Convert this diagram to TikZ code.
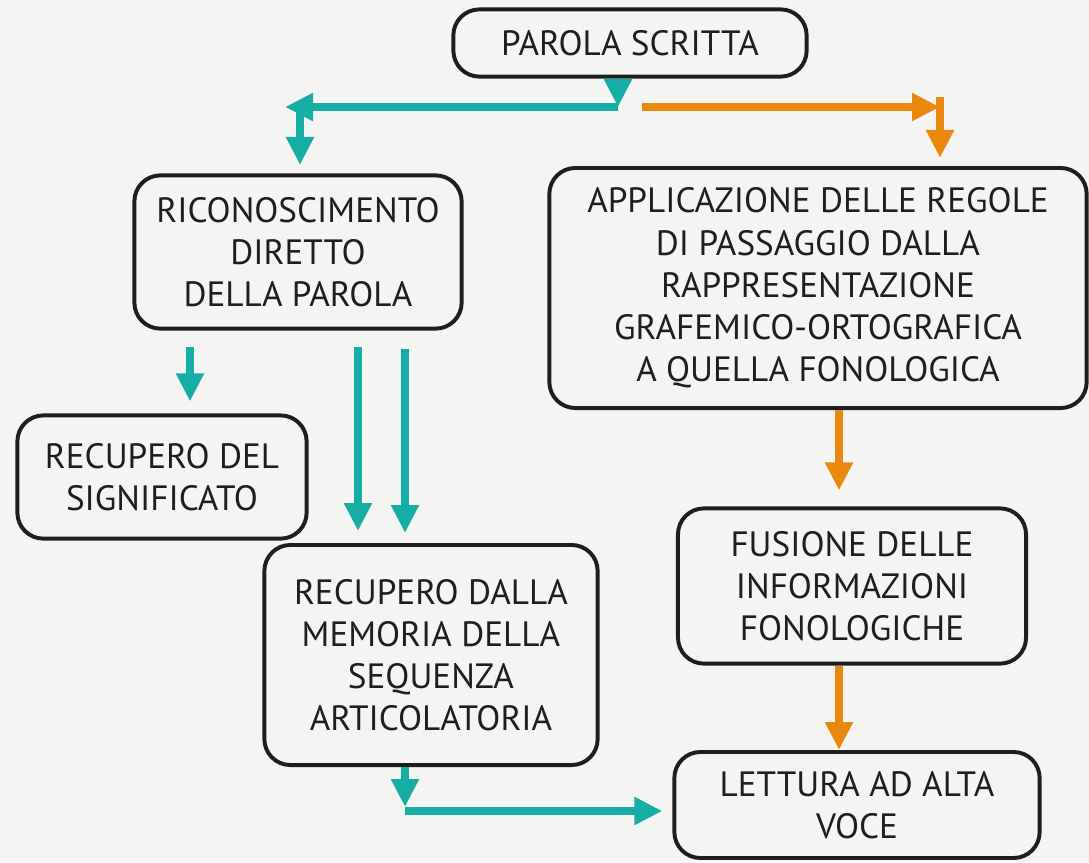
\documentclass[tikz,border=0pt]{standalone}
\usepackage{fontspec}
\setmainfont{PT Sans}
\usepackage{tikz}
\usetikzlibrary{arrows.meta,positioning,calc}
\definecolor{colorDirect}{RGB}{22,174,164}
\definecolor{colorPhono}{RGB}{232,136,12}
\definecolor{colorPaper}{RGB}{244,244,242}
\definecolor{colorInk}{RGB}{30,30,30}

\begin{document}
\begin{tikzpicture}[x=0.025cm,y=-0.025cm,
  box/.style={draw=colorInk,line width=2.8pt,rounded corners=0.65cm,align=center,inner sep=0pt,text=colorInk,font=\fontsize{25}{30}\selectfont},
  direct/.style={colorDirect,line width=5.8pt,-{Triangle[length=0.7cm,width=0.66cm]}},
  phono/.style={colorPhono,line width=5.8pt,-{Triangle[length=0.7cm,width=0.66cm]}}]
  \fill[colorPaper] (0,0) rectangle (1089,862);
  \useasboundingbox (0,0) rectangle (1089,862);

  % boxes
  \node[box,minimum width=8.83cm,minimum height=1.68cm] (parola) at (630,43) {PAROLA SCRITTA};
  \node[box,minimum width=8.18cm,minimum height=3.83cm] (ricon) at (298,252) {RICONOSCIMENTO\\DIRETTO\\DELLA PAROLA};
  \node[box,minimum width=13.43cm,minimum height=6.0cm] (applic) at (818,288) {APPLICAZIONE DELLE REGOLE\\DI PASSAGGIO DALLA\\RAPPRESENTAZIONE\\GRAFEMICO-ORTOGRAFICA\\A QUELLA FONOLOGICA};
  \node[box,minimum width=7.23cm,minimum height=3.08cm] (signif) at (162,477) {RECUPERO DEL\\SIGNIFICATO};
  \node[box,minimum width=8.33cm,minimum height=5.5cm] (memoria) at (431,655) {RECUPERO DALLA\\MEMORIA DELLA\\SEQUENZA\\ARTICOLATORIA};
  \node[box,minimum width=8.7cm,minimum height=3.88cm] (fusione) at (852,586) {FUSIONE DELLE\\INFORMAZIONI\\FONOLOGICHE};
  \node[box,minimum width=9.13cm,minimum height=2.65cm] (lettura) at (857,805) {LETTURA AD ALTA\\VOCE};

  % junctions
  \coordinate (splitL) at (618,107);
  \coordinate (leftEnd) at (285,107);
  \coordinate (splitR) at (642,107);
  \coordinate (cornerR) at (940,107);
  \coordinate (cornerB) at (405,811);

  % direct route
  \draw[direct] (parola.south -| splitL) -- (splitL);
  \draw[direct] (splitL) -- (leftEnd);
  \draw[direct,shorten >=6pt] ($(leftEnd)+(15,-4)$) -- (ricon.north -| 300,0);
  \draw[direct,shorten <=0.4cm,shorten >=0.3cm] (ricon.south -| 190,0) -- (signif.north -| 190,0);
  \draw[direct,shorten <=0.4cm,shorten >=0.3cm] (ricon.south -| 358,0) -- (memoria.north -| 358,0);
  \draw[direct,shorten <=0.45cm,shorten >=0.25cm] (ricon.south -| 405,0) -- (memoria.north -| 405,0);
  \draw[direct] (memoria.south -| cornerB) -- ($(cornerB)+(0,-4)$);
  \draw[direct,shorten >=0.25cm] (cornerB) -- (lettura.west |- cornerB);

  % phonological route
  \draw[phono] (splitR) -- (cornerR);
  \draw[phono,shorten >=0.2cm] ($(cornerR)+(0,-10)$) -- (applic.north -| cornerR);
  \draw[phono,shorten >=0.4cm] (applic.south -| 839,0) -- (fusione.north -| 839,0);
  \draw[phono] (fusione.south -| 839,0) -- (lettura.north -| 839,0);
\end{tikzpicture}
\end{document}
